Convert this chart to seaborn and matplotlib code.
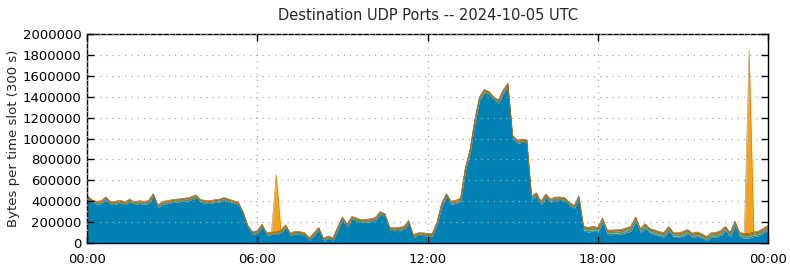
import numpy as np
import pandas as pd
import seaborn as sns
import matplotlib
matplotlib.use("Agg")
import matplotlib.pyplot as plt

# 10 minute steps, 00:00 .. 24:00, values in kB per 300 s slot
hours = [i / 6 for i in range(145)]

blue = [
    428, 388, 373, 378, 413, 368,
    373, 383, 368, 393, 368, 378,
    373, 378, 443, 338, 373, 378,
    388, 393, 398, 403, 413, 433,
    388, 383, 378, 388, 393, 408,
    393, 378, 363, 273, 143, 83,
    93, 153, 73, 81, 83, 98,
    148, 69, 88, 85, 73, 25,
    73, 123, 20, 43, 25, 123,
    223, 153, 228, 213, 195, 201,
    205, 218, 273, 253, 123, 118,
    123, 131, 188, 53, 73, 73,
    66, 66, 173, 353, 443, 373,
    379, 399, 689, 864, 1149, 1369,
    1439, 1419, 1369, 1339, 1433, 1499,
    999, 954, 964, 959, 419, 449,
    369, 439, 389, 409, 409, 404,
    359, 329, 419, 115, 105, 115,
    105, 195, 80, 80, 83, 86,
    100, 115, 205, 95, 140, 95,
    80, 65, 57, 115, 55, 54,
    65, 85, 50, 63, 45, 22,
    54, 57, 75, 115, 55, 165,
    55, 48, 50, 63, 70, 95,
    125,
]
lightblue = [
    4, 4, 3, 4, 4, 3,
    4, 4, 4, 4, 3, 4,
    4, 4, 5, 3, 4, 4,
    4, 4, 4, 4, 5, 4,
    4, 4, 4, 4, 4, 5,
    4, 4, 4, 4, 3, 3,
    3, 4, 3, 3, 3, 3,
    4, 3, 3, 3, 3, 3,
    3, 4, 3, 3, 3, 4,
    4, 4, 4, 4, 4, 4,
    4, 4, 5, 4, 4, 4,
    4, 4, 4, 3, 3, 3,
    3, 3, 4, 5, 6, 5,
    6, 6, 6, 6, 6, 6,
    6, 6, 6, 6, 6, 6,
    6, 6, 6, 6, 6, 6,
    6, 6, 6, 6, 6, 6,
    6, 6, 6, 15, 15, 15,
    15, 16, 15, 15, 15, 15,
    15, 15, 16, 15, 15, 15,
    15, 15, 15, 15, 15, 15,
    15, 15, 15, 15, 14, 12,
    15, 15, 15, 15, 15, 16,
    15, 15, 15, 15, 15, 15,
    15,
]
green = [
    14, 14, 14, 14, 15, 14,
    14, 14, 14, 14, 14, 14,
    14, 14, 15, 14, 14, 14,
    14, 14, 14, 15, 15, 15,
    14, 14, 14, 14, 14, 14,
    14, 14, 14, 14, 13, 13,
    13, 13, 13, 13, 13, 13,
    13, 13, 13, 13, 13, 13,
    13, 13, 13, 13, 13, 13,
    14, 14, 14, 14, 14, 14,
    14, 14, 14, 14, 14, 14,
    14, 14, 14, 13, 13, 13,
    13, 13, 14, 14, 14, 14,
    15, 15, 15, 15, 15, 15,
    15, 15, 15, 15, 15, 15,
    15, 15, 15, 15, 15, 15,
    15, 15, 15, 15, 15, 15,
    15, 15, 15, 18, 18, 18,
    18, 18, 18, 18, 18, 18,
    18, 18, 18, 18, 18, 18,
    18, 18, 18, 18, 18, 18,
    18, 18, 18, 18, 18, 16,
    18, 18, 18, 18, 18, 18,
    18, 18, 18, 18, 18, 18,
    18,
]
red = [
    7, 7, 7, 7, 7, 7,
    7, 7, 7, 7, 7, 7,
    7, 7, 7, 7, 7, 7,
    7, 7, 7, 7, 7, 7,
    7, 7, 7, 7, 7, 7,
    7, 7, 7, 7, 7, 7,
    7, 7, 7, 7, 7, 7,
    7, 7, 7, 7, 7, 7,
    7, 7, 7, 7, 7, 7,
    7, 7, 7, 7, 7, 7,
    7, 7, 7, 7, 7, 7,
    7, 7, 7, 7, 7, 7,
    7, 7, 7, 7, 7, 7,
    8, 8, 8, 8, 8, 8,
    8, 8, 8, 8, 8, 8,
    8, 8, 8, 8, 8, 8,
    8, 8, 8, 8, 8, 8,
    8, 8, 8, 9, 9, 9,
    9, 9, 9, 9, 9, 9,
    9, 9, 9, 9, 9, 9,
    9, 9, 9, 9, 9, 9,
    9, 9, 9, 9, 9, 9,
    9, 9, 9, 9, 9, 9,
    9, 9, 9, 9, 9, 9,
    9,
]
orange = [
    2, 2, 2, 2, 2, 2,
    2, 2, 2, 2, 2, 2,
    2, 2, 2, 2, 2, 2,
    2, 2, 2, 2, 2, 2,
    2, 2, 2, 2, 2, 2,
    2, 2, 2, 2, 2, 2,
    2, 2, 2, 2, 550, 2,
    2, 2, 2, 2, 2, 2,
    2, 2, 2, 2, 2, 2,
    2, 2, 2, 2, 2, 2,
    2, 2, 2, 2, 2, 2,
    2, 2, 2, 2, 2, 2,
    2, 2, 2, 2, 2, 2,
    2, 2, 2, 2, 2, 2,
    2, 2, 2, 2, 2, 2,
    2, 2, 2, 2, 2, 2,
    2, 2, 2, 2, 2, 2,
    2, 2, 2, 3, 3, 3,
    3, 3, 3, 3, 3, 3,
    3, 3, 3, 3, 3, 3,
    3, 3, 3, 3, 3, 3,
    3, 3, 3, 3, 3, 3,
    3, 3, 3, 3, 3, 3,
    3, 3, 1750, 3, 3, 3,
    3,
]

layers = ["blue", "lightblue", "green", "red", "orange"]
colors = ["#0082b4", "#7cb2d8", "#569f32", "#c8521c", "#f6a21c"]
edges = ["#00628a", "#5a94bd", "#3f7f22", "#a53d0e", "#d07a14"]

df = pd.DataFrame({"hour": hours, "blue": blue, "lightblue": lightblue,
                   "green": green, "red": red, "orange": orange})
for c in layers:
    df[c] = df[c] * 1000

sns.set_theme(style="ticks")
plt.rcParams["font.family"] = ["DejaVu Sans"]

fig = plt.figure(figsize=(7.9, 2.67), dpi=100)
ax = fig.add_axes([87 / 790, 1 - 243 / 267, (768 - 87) / 790, (243 - 34) / 267])

ax.stackplot(df["hour"], *[df[c] for c in layers], colors=colors,
             edgecolor=None, linewidth=0)
# thin edge on each layer top
bottom = np.zeros(len(df))
for c, e in zip(layers, edges):
    bottom = bottom + df[c].values
    ax.plot(df["hour"], bottom, color=e, lw=0.4)

ax.set_xlim(0, 24)
ax.set_ylim(0, 2000000)
ax.set_xticks([0, 6, 12, 18, 24])
ax.set_xticklabels(["00:00", "06:00", "12:00", "18:00", "00:00"])
ax.set_yticks(range(0, 2000001, 200000))
ax.set_yticklabels([str(v) for v in range(0, 2000001, 200000)])
ax.tick_params(direction="in", top=True, right=True, length=5, width=1,
               labelsize=9.5, colors="black", pad=4)
ax.tick_params(axis="x", pad=7)
ax.grid(True, linestyle=(0, (1, 4)), color="#aaaaaa", lw=0.9)
ax.set_axisbelow(False)
for s in ax.spines.values():
    s.set_color("black")
    s.set_linewidth(1)

ax.set_ylabel("Bytes per time slot (300 s)", fontsize=9.5, labelpad=2)
ax.set_title("Destination UDP Ports -- 2024-10-05 UTC", fontsize=10.5, pad=10)

fig.savefig("out.png", dpi=100)
